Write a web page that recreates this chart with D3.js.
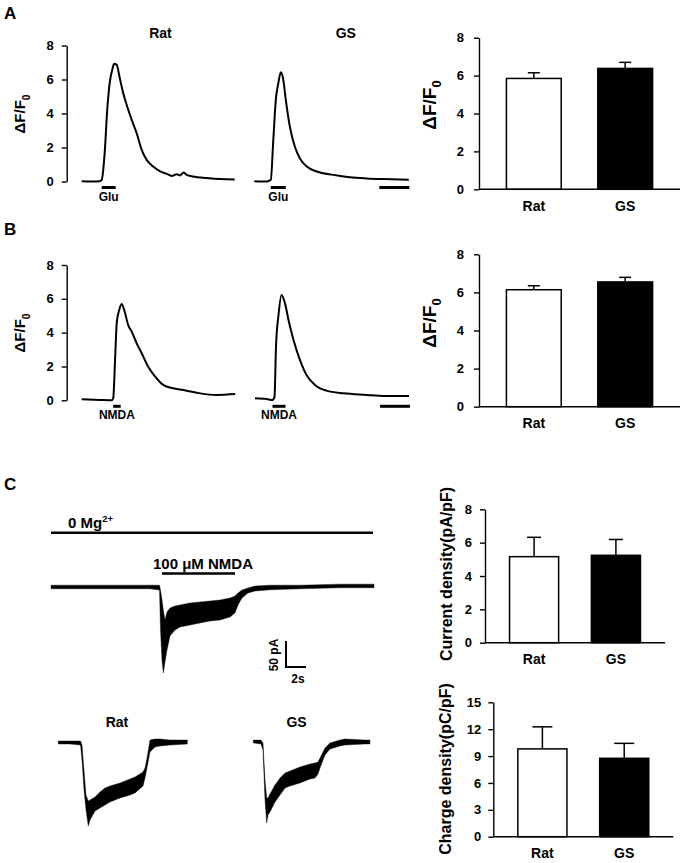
<!DOCTYPE html>
<html><head><meta charset="utf-8">
<script src="https://cdn.jsdelivr.net/npm/d3@7"></script>
<style>
html,body{margin:0;padding:0;background:#fff;}
svg{display:block;font-family:"Liberation Sans",Arial,Helvetica,sans-serif;font-weight:bold;}
</style></head><body>
<svg id="fig" width="685" height="863"></svg>
<script>
// ---------------- DATA ----------------
const groups = ["Rat", "GS"];
const dfTicks = [0, 2, 4, 6, 8];
const currentTicks = [0, 2, 4, 6, 8];
const chargeTicks = [0, 3, 6, 9, 12, 15];

// Ca2+ imaging traces (time in s, ΔF/F0)
const ratGluT = [0,20,36,40,46,51,56,62,65,70,76,83,90,100,110,120,130,143,157,170,180,190,197,204,210,223,250,277,306];
const ratGluV = [0.02,0,0.02,0.1,1.7,4.2,5.8,6.67,6.92,6.86,6.1,5.2,4.5,3.63,2.84,1.86,1.27,0.88,0.59,0.45,0.33,0.42,0.36,0.53,0.39,0.29,0.2,0.14,0.12];
const gsGluT = [0,25,33,38,43,48,53,58,63,71,81,91,105,125,158,191,225,258,309];
const gsGluV = [0.02,0,0.1,2.45,4.8,5.78,6.42,5.98,4.8,3.24,2.06,1.37,0.88,0.59,0.39,0.25,0.18,0.14,0.1];
const ratNmdaT = [0,37,60,63,67,70,75,80,85,93,100,110,120,133,147,163,183,210,237,270,307];
const ratNmdaV = [0.06,0.02,0,0.12,2.58,4.55,5.34,5.69,5.34,4.45,4.06,3.37,2.78,1.99,1.4,0.91,0.71,0.57,0.41,0.32,0.37];
const gsNmdaT = [0,23,35,39,42,47,53,60,67,77,90,103,120,143,177,223,257,308];
const gsNmdaV = [0.12,0.08,0.02,0.2,3.17,5.04,6.23,5.73,4.75,3.57,2.38,1.5,0.91,0.57,0.41,0.32,0.26,0.25];
const stimGlu = [[40, 68], [33, 63]];     // Rat, GS (s)
const stimNmda = [[63, 78], [35, 61]];
const caScaleBarSec = 60;

// Bar data (mean, SEM)
const peakGluMean = [5.85, 6.38];
const peakGluSem = [0.30, 0.32];
const peakNmdaMean = [6.14, 6.55];
const peakNmdaSem = [0.21, 0.24];
const currentMean = [5.16, 5.24];
const currentSem = [1.16, 0.95];
const chargeMean = [9.8, 8.75];
const chargeSem = [2.46, 1.67];

// Whole-cell current traces (time s, upper/lower envelope pA)
const mainT = [0,4.9,9.9,10.85,10.95,11.1,11.23,11.4,11.6,11.9,12.4,12.9,13.9,14.9,15.9,16.9,17.9,18.4,18.7,19.1,19.7,20.4,21.9,24.9,28.9,32.3];
const mainHi = [3.5,3.5,3.5,3.5,-5.8,-25,-44.2,-63.5,-48.1,-40.4,-36.5,-34.6,-30.8,-28.8,-26.9,-25,-21.2,-17.3,-11.5,-5.8,-1.9,1.9,3.5,3.5,5.5,5.5];
const mainLo = [-3.5,-3.5,-3.5,-5.8,-82.7,-140.4,-165.4,-144.2,-121.2,-94.2,-82.7,-76.9,-73.1,-69.2,-65.4,-63.5,-57.7,-50,-34.6,-21.2,-11.5,-7.7,-5.5,-3.5,-1.5,-1.5];
const nmdaApp = [11.1, 18.4];
const mgApp = [0, 32.2];
const ratT = [0,1.17,2.22,2.37,2.57,2.77,3.0,3.17,3.67,4.17,4.67,5.17,6.17,7.17,7.67,8.47,8.67,8.87,9.17,9.67,10.17,11.17,12.9];
const ratHi = [2.9,2.9,2.9,-4.8,-52.9,-101,-112.5,-110.6,-104.8,-95.2,-87.5,-83.7,-77.9,-70.2,-66.3,-56.7,-49,-29.8,4.8,6.7,6.7,4.8,4.8];
const ratLo = [-2.9,-2.9,-4.8,-33.7,-91.3,-129.8,-160.6,-149,-131.7,-126,-120.2,-114.4,-106.7,-101,-97.1,-83.7,-68.3,-49,-18.3,-8.7,-6.7,-4.8,-2.9];
const gsT = [0,0.77,0.97,1.17,1.34,1.47,1.67,2.17,2.67,3.17,3.67,4.67,5.67,6.17,6.47,6.67,6.97,7.17,7.67,8.67,9.17,11.17,11.67];
const gsHi = [3.8,3.8,-1.9,-73.1,-107.7,-107.7,-100,-82.7,-69.2,-59.6,-55.8,-48.1,-42.3,-40.4,-38.5,-30.8,-19.2,-11.5,-1.9,3.8,5.8,3.8,3.8];
const gsLo = [-1.9,-3.8,-15.4,-111.5,-155.8,-140.4,-134.6,-115.4,-101.9,-88.5,-84.6,-78.8,-71.2,-69.2,-61.5,-50,-34.6,-25,-13.5,-7.7,-5.8,-3.8,-3.8];
const scaleBarPA = 50, scaleBarS = 2;

// ---------------- DRAW ----------------
const svg = d3.select("#fig");
const FONT = '"Liberation Sans",Arial,sans-serif';

function txt(x, y, s, size, anchor) {
  return svg.append("text").attr("x", x).attr("y", y).attr("font-size", size)
    .attr("text-anchor", anchor || "middle").attr("fill", "#000").text(s);
}
function dfLabel(cx, cy, size) {
  const t = svg.append("text").attr("transform", `translate(${cx},${cy}) rotate(-90)`)
    .attr("text-anchor", "middle").attr("dy", "0.35em").attr("font-size", size);
  t.append("tspan").text("\u0394F/F");
  t.append("tspan").attr("font-size", size * 0.68).attr("dy", size * 0.3).text("0");
}
function rotLabel(cx, cy, s, size) {
  svg.append("text").attr("transform", `translate(${cx},${cy}) rotate(-90)`)
    .attr("text-anchor", "middle").attr("dy", "0.35em").attr("font-size", size).text(s);
}
function leftAxis(x, y, ticks, pad, fs) {
  const g = svg.append("g").attr("transform", `translate(${x},0)`)
    .call(d3.axisLeft(y).tickValues(ticks).tickSize(5).tickSizeOuter(0).tickPadding(pad));
  g.select(".domain").attr("stroke", "#000").attr("stroke-width", 1.4);
  g.selectAll(".tick line").attr("stroke", "#000").attr("stroke-width", 1.4);
  g.selectAll(".tick text").attr("font-size", fs).attr("font-family", FONT)
    .attr("font-weight", "bold").attr("fill", "#000");
  return g;
}

// Panel letters
txt(4, 18.5, "A", 17, "start");
txt(4, 234.5, "B", 17, "start");
txt(4, 489.5, "C", 17, "start");

// Ca traces
function caTrace(x0, y, T, V, stim, stimLabel, scaleBar) {
  const x = d3.scaleLinear().domain([0, 310]).range([x0, x0 + 155]);
  const pts = T.map((t, i) => [t, V[i]]);
  svg.append("path").attr("d", d3.line().x(d => x(d[0])).y(d => y(d[1])).curve(d3.curveMonotoneX)(pts))
    .attr("fill", "none").attr("stroke", "#000").attr("stroke-width", 2);
  const by = y(0) + 6;
  svg.append("line").attr("x1", x(stim[0])).attr("x2", x(stim[1])).attr("y1", by).attr("y2", by)
    .attr("stroke", "#000").attr("stroke-width", 3);
  txt((x(stim[0]) + x(stim[1])) / 2, by + 13, stimLabel, 12);
  if (scaleBar) {
    const s0 = 250;
    svg.append("line").attr("x1", x(s0)).attr("x2", x(s0 + caScaleBarSec)).attr("y1", by).attr("y2", by)
      .attr("stroke", "#000").attr("stroke-width", 3);
  }
}
const yA = d3.scaleLinear().domain([0, 8]).range([181.5, 45.5]);
const yB = d3.scaleLinear().domain([0, 8]).range([400.3, 265]);
leftAxis(66.7, yA, dfTicks, 8, 13);
leftAxis(66.7, yB, dfTicks, 8, 13);
dfLabel(20, 114, 15);
dfLabel(20, 333, 15);
txt(160.5, 37.7, groups[0], 14);
txt(345.8, 37.7, groups[1], 14);
caTrace(81.7, yA, ratGluT, ratGluV, stimGlu[0], "Glu", false);
caTrace(254.3, yA, gsGluT, gsGluV, stimGlu[1], "Glu", true);
caTrace(81.7, yB, ratNmdaT, ratNmdaV, stimNmda[0], "NMDA", false);
caTrace(255, yB, gsNmdaT, gsNmdaV, stimNmda[1], "NMDA", true);

// Bar charts
function barChart(xr, yr, dom, ticks, means, sems, pad, capW) {
  const x = d3.scaleBand().domain(groups).range(xr).paddingInner(0.4).paddingOuter(0.3);
  const y = d3.scaleLinear().domain(dom).range(yr);
  groups.forEach((g, i) => {
    const cx = x(g) + x.bandwidth() / 2;
    const top = y(means[i] + sems[i]);
    svg.append("line").attr("x1", cx).attr("x2", cx).attr("y1", y(means[i])).attr("y2", top)
      .attr("stroke", "#000").attr("stroke-width", 1.5);
    svg.append("line").attr("x1", cx - capW / 2).attr("x2", cx + capW / 2).attr("y1", top).attr("y2", top)
      .attr("stroke", "#000").attr("stroke-width", 1.5);
    svg.append("rect").attr("x", x(g)).attr("width", x.bandwidth())
      .attr("y", y(means[i])).attr("height", y(0) - y(means[i]))
      .attr("fill", i === 0 ? "#fff" : "#000").attr("stroke", "#000").attr("stroke-width", 1.5);
    txt(cx, y(0) + 21.5, g, 14);
  });
  svg.append("line").attr("x1", xr[0]).attr("x2", xr[1]).attr("y1", y(0)).attr("y2", y(0))
    .attr("stroke", "#000").attr("stroke-width", 1.4);
  leftAxis(xr[0], y, ticks, pad, 13);
  return y;
}
barChart([479, 680], [189.3, 37.7], [0, 8], dfTicks, peakGluMean, peakGluSem, 10, 12);
dfLabel(429, 105, 19);
barChart([479, 680], [406.7, 254.3], [0, 8], dfTicks, peakNmdaMean, peakNmdaSem, 10, 12);
dfLabel(429, 323, 19);
barChart([485, 665], [642.7, 509.3], [0, 8], currentTicks, currentMean, currentSem, 8, 14);
rotLabel(446.5, 574, "Current density(pA/pF)", 16);
barChart([493.3, 673.3], [836.7, 702.3], [0, 15], chargeTicks, chargeMean, chargeSem, 7, 20);
rotLabel(445, 769, "Charge density(pC/pF)", 16);

// Current traces
function envTrace(x, y, T, Hi, Lo) {
  const pts = T.map((t, i) => [t, Hi[i], Lo[i]]);
  svg.append("path").attr("d", d3.area().x(d => x(d[0])).y0(d => y(d[1])).y1(d => y(d[2])).curve(d3.curveLinear)(pts))
    .attr("fill", "#000").attr("stroke", "#000").attr("stroke-width", 0.4).attr("stroke-linejoin", "round");
}
const xMain = d3.scaleLinear().domain([0, 32.3]).range([51, 374]);
const yMain = d3.scaleLinear().domain([0, -100]).range([587, 639]);
envTrace(xMain, yMain, mainT, mainHi, mainLo);
// 0 Mg2+ bar
svg.append("line").attr("x1", xMain(mgApp[0])).attr("x2", xMain(mgApp[1])).attr("y1", 532.7).attr("y2", 532.7)
  .attr("stroke", "#000").attr("stroke-width", 2.5);
const mg = svg.append("text").attr("x", 68).attr("y", 527.5).attr("font-size", 15);
mg.append("tspan").text("0 Mg");
mg.append("tspan").attr("font-size", 9.5).attr("dy", -5.5).text("2+");
// NMDA bar
svg.append("line").attr("x1", xMain(nmdaApp[0])).attr("x2", xMain(nmdaApp[1])).attr("y1", 573.5).attr("y2", 573.5)
  .attr("stroke", "#000").attr("stroke-width", 2.5);
txt(203, 568.5, "100 \u03bcM NMDA", 15);
// scale bar
const sbT = 23.5, sbI = -154;
svg.append("path").attr("d", d3.line()([
  [xMain(sbT), yMain(sbI + scaleBarPA)], [xMain(sbT), yMain(sbI)], [xMain(sbT + scaleBarS), yMain(sbI)]
])).attr("fill", "none").attr("stroke", "#000").attr("stroke-width", 2);
rotLabel(274, 655, "50 pA", 12);
txt(298, 683, "2s", 12);

// bottom traces
txt(117, 727, groups[0], 14);
txt(296.5, 727, groups[1], 14);
const xRat = d3.scaleLinear().domain([0, 12.9]).range([58.3, 187.3]);
const yRat = d3.scaleLinear().domain([0, -100]).range([742.5, 794.5]);
envTrace(xRat, yRat, ratT, ratHi, ratLo);
const xGS = d3.scaleLinear().domain([0, 11.67]).range([253.3, 370]);
const yGS = d3.scaleLinear().domain([0, -100]).range([742, 794]);
envTrace(xGS, yGS, gsT, gsHi, gsLo);
</script></body></html>
